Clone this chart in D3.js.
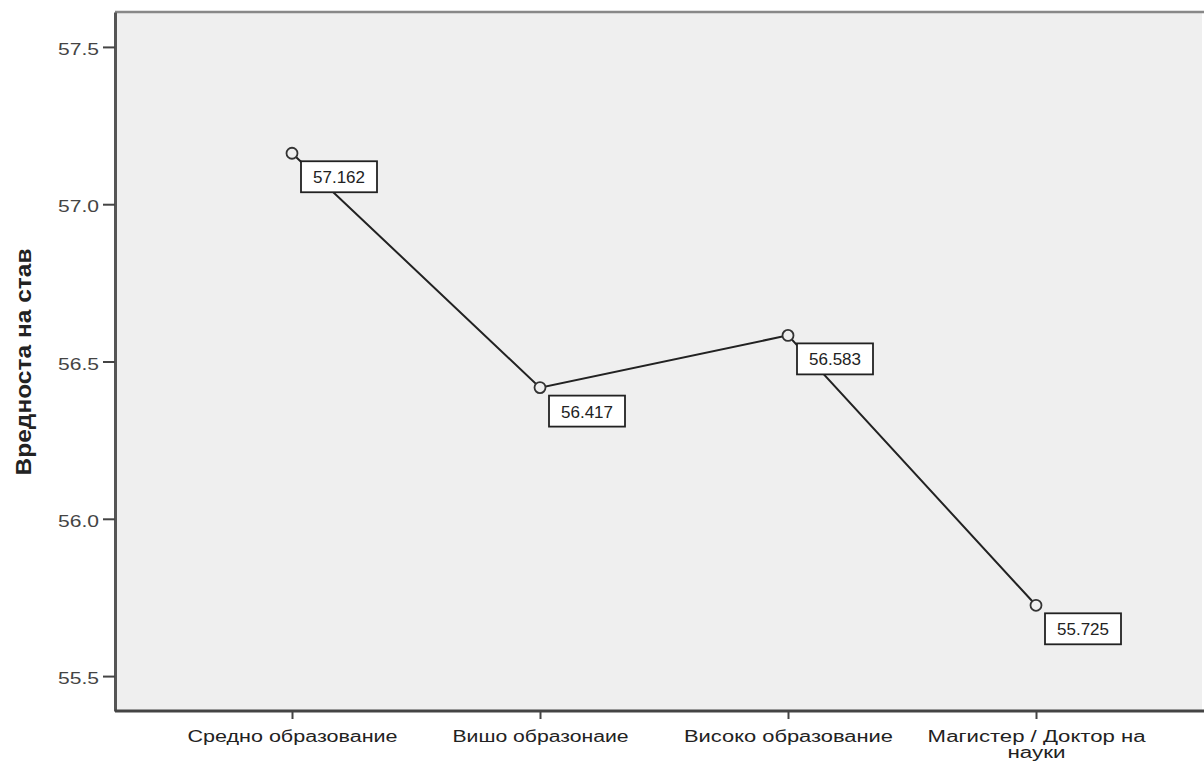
<!DOCTYPE html>
<html><head><meta charset="utf-8">
<script src="https://cdn.jsdelivr.net/npm/d3@7"></script>
<style>body{margin:0;background:#fff}svg{display:block}</style>
</head><body>
<svg id="c" width="1204" height="763"></svg>
<script>
const categories = ["Средно образование", "Вишо образонаие", "Високо образование", "Магистер / Доктор на науки"];
const categoryLines = [["Средно образование"], ["Вишо образонаие"], ["Високо образование"], ["Магистер / Доктор на", "науки"]];
const values = [57.162, 56.417, 56.583, 55.725];
const valueLabels = ["57.162", "56.417", "56.583", "55.725"];
const yTicks = [55.5, 56.0, 56.5, 57.0, 57.5];
const yTitle = "Вредноста на став";

const FONT = "Arial, 'Liberation Sans', sans-serif";
const svg = d3.select("#c");
const L = 115, T = 12, R = 1202, B = 711;
const x = d3.scalePoint().domain(categories).range([292, 1036]);
const y = d3.scaleLinear().domain([55.389, 57.611]).range([B, T]);

svg.append("rect").attr("x", L).attr("y", T).attr("width", R - L).attr("height", B - T).attr("fill", "#efefef");
svg.append("line").attr("x1", L).attr("x2", 1204).attr("y1", T).attr("y2", T).attr("stroke", "#888").attr("stroke-width", 2.5);

const ya = svg.append("g").attr("transform", `translate(${L},0)`)
  .call(d3.axisLeft(y).tickValues(yTicks).tickFormat(d3.format(".1f")).tickSize(12).tickSizeOuter(0));
ya.select(".domain").attr("stroke", "#555").attr("stroke-width", 3);
ya.selectAll(".tick line").attr("stroke", "#444").attr("stroke-width", 2);
ya.selectAll(".tick text").attr("font-family", FONT).attr("font-size", 17).attr("fill", "#444")
  .attr("x", -16).attr("dy", "0.45em").attr("textLength", 41).attr("lengthAdjust", "spacingAndGlyphs");

const xa = svg.append("g").attr("transform", `translate(0,${B})`)
  .call(d3.axisBottom(x).tickSize(8).tickSizeOuter(0).tickFormat(""));
xa.select(".domain").attr("stroke", "#444").attr("stroke-width", 3).attr("d", `M${L},0H1204`);
xa.selectAll(".tick line").attr("stroke", "#444").attr("stroke-width", 2);
const lineWidths = [[210], [176], [209], [218, 58]];
xa.selectAll(".tick").each(function(d, i) {
  const g = d3.select(this);
  categoryLines[i].forEach((ln, j) => {
    g.append("text").attr("fill", "#222").attr("font-family", FONT).attr("font-size", 16)
      .attr("text-anchor", "middle").attr("x", 0).attr("y", 31 + j * 16)
      .attr("textLength", lineWidths[i][j]).attr("lengthAdjust", "spacingAndGlyphs").text(ln);
  });
});

svg.append("text").attr("transform", `translate(31,362) rotate(-90)`)
  .attr("text-anchor", "middle").attr("font-family", FONT)
  .attr("font-weight", "bold").attr("font-size", 22).attr("fill", "#222")
  .attr("textLength", 227).attr("lengthAdjust", "spacingAndGlyphs").text(yTitle);

const data = categories.map((c, i) => ({c, v: values[i], lab: valueLabels[i]}));
svg.append("path").datum(data).attr("fill", "none").attr("stroke", "#222").attr("stroke-width", 2)
  .attr("d", d3.line().x(d => x(d.c)).y(d => y(d.v)));
svg.selectAll(".pt").data(data).join("circle").attr("class", "pt")
  .attr("cx", d => x(d.c)).attr("cy", d => y(d.v)).attr("r", 5.5)
  .attr("fill", "#efefef").attr("stroke", "#333").attr("stroke-width", 1.8);

const lg = svg.selectAll(".lab").data(data).join("g").attr("class", "lab")
  .attr("transform", d => `translate(${x(d.c) + 9},${y(d.v) + 8})`);
lg.append("rect").attr("width", 76).attr("height", 31).attr("fill", "#fff").attr("stroke", "#222").attr("stroke-width", 1.8);
lg.append("text").attr("x", 38).attr("y", 22).attr("text-anchor", "middle")
  .attr("font-family", FONT).attr("font-size", 17).attr("fill", "#222")
  .text(d => d.lab);
</script>
</body></html>
